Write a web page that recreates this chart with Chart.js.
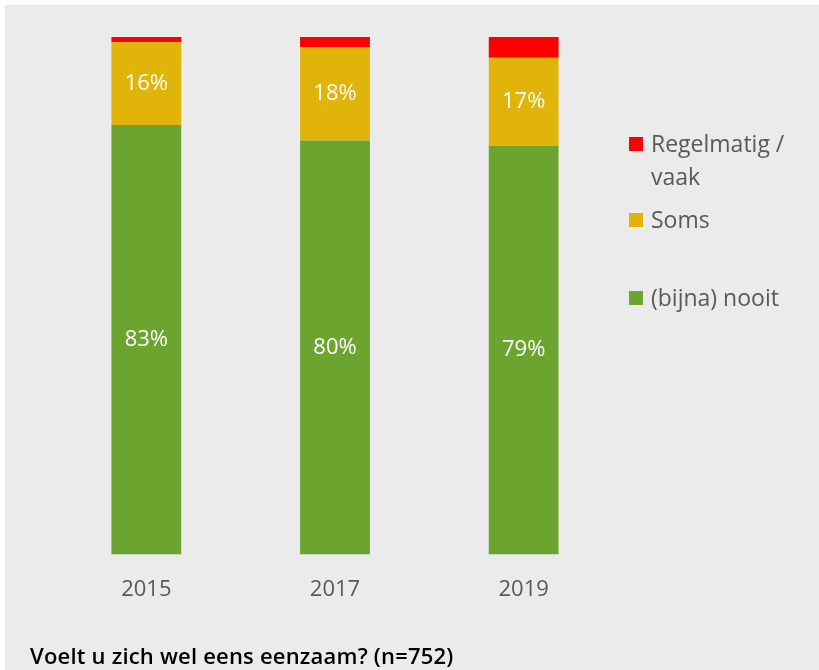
<!DOCTYPE html>
<html>
<head>
<meta charset="utf-8">
<script src="https://cdn.jsdelivr.net/npm/chart.js@4/dist/chart.umd.min.js"></script>
<style>
  body { margin: 0; background: #fff; }
  #kader { position: absolute; left: 5px; top: 5px; width: 814px; height: 665px; background: #ebebeb; }
  #grafiek { position: absolute; left: 0; top: 0; }
  #legenda { position: absolute; left: 624px; top: 123px; font-family: "Open Sans", "Noto Sans", sans-serif; font-size: 23px; color: #595959; }
  .item { position: absolute; left: 0; white-space: nowrap; line-height: 33px; }
  .blokje { position: absolute; left: 0; top: 9px; width: 14px; height: 14px; }
  .tekst { position: absolute; left: 22px; top: -1px; }
  #titel { position: absolute; left: 25px; top: 635px; font-family: "Open Sans", sans-serif; font-weight: 600; font-size: 22px; letter-spacing: 0.2px; color: #000; }
</style>
</head>
<body>
<div id="kader">
  <canvas id="grafiek" width="814" height="665"></canvas>
  <div id="legenda"></div>
  <div id="titel">Voelt u zich wel eens eenzaam? (n=752)</div>
</div>
<script>
const jaren = ["2015", "2017", "2019"];
const nooit = [83, 80, 79];
const soms = [16, 18, 17];
const regelmatig = [1, 2, 4];

const namen = ["(bijna) nooit", "Soms", "Regelmatig / vaak"];
const kleuren = ["#6ba52f", "#e0b408", "#ff0000"];
const toonLabel = [true, true, false];

// labels in de balken
const waardenPlugin = {
    id: 'waarden',
    afterDatasetsDraw(chart) {
        const ctx = chart.ctx;
        ctx.save();
        ctx.font = '22px "Open Sans", sans-serif';
        ctx.fillStyle = '#ffffff';
        ctx.textAlign = 'center';
        ctx.textBaseline = 'middle';
        chart.data.datasets.forEach(function (ds, i) {
            if (!toonLabel[i]) return;
            chart.getDatasetMeta(i).data.forEach(function (bar, j) {
                const midden = (bar.y + bar.base) / 2;
                ctx.fillText(ds.data[j] + '%', bar.x, midden);
            });
        });
        ctx.restore();
    }
};

const ctx = document.getElementById('grafiek').getContext('2d');
const myChart = new Chart(ctx, {
    type: 'bar',
    data: {
        labels: jaren,
        datasets: [
            { label: namen[0], data: nooit, backgroundColor: kleuren[0] },
            { label: namen[1], data: soms, backgroundColor: kleuren[1] },
            { label: namen[2], data: regelmatig, backgroundColor: kleuren[2] }
        ]
    },
    options: {
        responsive: false,
        animation: false,
        layout: { padding: { left: 47, right: 201, top: 32, bottom: 45 } },
        datasets: { bar: { categoryPercentage: 1, barPercentage: 0.37 } },
        scales: {
            x: {
                stacked: true,
                grid: { display: false, drawTicks: false },
                border: { display: false },
                ticks: { color: '#595959', font: { family: '"Open Sans", sans-serif', size: 22 }, padding: 22 }
            },
            y: {
                stacked: true,
                display: false,
                min: 0,
                max: 100
            }
        },
        plugins: {
            legend: { display: false },
            tooltip: { enabled: false }
        }
    },
    plugins: [waardenPlugin]
});

// legenda rechts, volgorde van boven naar onder
const legendaTop = [0, 76, 154];
const legendaTekst = ["Regelmatig /<br>vaak", "Soms", "(bijna) nooit"];
const legenda = document.getElementById('legenda');
[2, 1, 0].forEach(function (i, k) {
    legenda.insertAdjacentHTML('beforeend',
        `<div class="item" style="top:${legendaTop[k]}px">
            <div class="blokje" style="background:${kleuren[i]}"></div>
            <div class="tekst">${legendaTekst[k]}</div>
        </div>`);
});
</script>
</body>
</html>
